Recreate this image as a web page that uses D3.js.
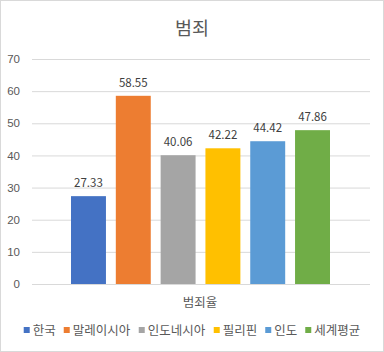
<!DOCTYPE html>
<html>
<head>
<meta charset="utf-8">
<script src="https://cdn.jsdelivr.net/npm/d3@7"></script>
<style>
  html, body { margin: 0; padding: 0; background: #fff; }
  svg { display: block; font-family: "Noto Sans CJK KR", "Noto Sans", sans-serif; }
</style>
</head>
<body>
<div id="chart"></div>
<script>
// données
const title = "범죄";
const category = "범죄율";
const countries = ["한국", "말레이시아", "인도네시아", "필리핀", "인도", "세계평균"];
const values = [27.33, 58.55, 40.06, 42.22, 44.42, 47.86];
const colors = ["#4472C4", "#ED7D31", "#A5A5A5", "#FFC000", "#5B9BD5", "#70AD47"];
const yTicks = [0, 10, 20, 30, 40, 50, 60, 70];

const W = 384, H = 352;
const margin = { top: 59, right: 14, bottom: 68, left: 32 };
const width = W - margin.left - margin.right;
const height = H - margin.top - margin.bottom;

const svg = d3.select("#chart").append("svg")
  .attr("width", W).attr("height", H);

// cadre
svg.append("rect")
  .attr("x", 0.5).attr("y", 0.5)
  .attr("width", W - 1).attr("height", H - 1)
  .attr("fill", "#fff").attr("stroke", "#d9d9d9");

// titre
svg.append("text")
  .attr("x", W / 2).attr("y", 35)
  .attr("text-anchor", "middle")
  .attr("font-size", 18.5)
  .attr("fill", "#595959")
  .text(title);

const g = svg.append("g").attr("transform", `translate(${margin.left},${margin.top})`);

// échelles
const y = d3.scaleLinear().domain([0, 70]).range([height, 0]);
const x = d3.scaleBand().domain(countries).range([39, width - 40]).paddingInner(0.22).paddingOuter(0);
const scaleC = d3.scaleOrdinal().domain(countries).range(colors);

// axe Y + grille
g.append("g")
  .call(d3.axisLeft(y).tickValues(yTicks).tickSize(0).tickPadding(12))
  .call(a => a.select(".domain").remove())
  .call(a => a.selectAll(".tick line").clone().attr("x2", width).attr("stroke", "#d9d9d9"))
  .call(a => a.selectAll("text").attr("fill", "#595959").attr("font-size", 11.5).attr("font-family", "inherit"));

// barres
g.selectAll(".bar")
  .data(countries)
  .join("rect")
  .attr("class", "bar")
  .attr("x", d => x(d))
  .attr("width", x.bandwidth())
  .attr("y", (d, i) => y(values[i]))
  .attr("height", (d, i) => height - y(values[i]))
  .attr("fill", d => scaleC(d));

// étiquettes de valeurs
g.selectAll(".val")
  .data(countries)
  .join("text")
  .attr("class", "val")
  .attr("x", d => x(d) + x.bandwidth() / 2)
  .attr("y", (d, i) => y(values[i]) - 9)
  .attr("text-anchor", "middle")
  .attr("font-size", 11.5)
  .attr("fill", "#404040")
  .text((d, i) => values[i].toFixed(2));

// libellé catégorie
g.append("text")
  .attr("x", width / 2 - 1).attr("y", height + 23)
  .attr("text-anchor", "middle")
  .attr("font-size", 12.5)
  .attr("fill", "#595959")
  .text(category);

// légende
const legend = svg.append("g").attr("transform", `translate(0, ${H - 21})`);
const items = legend.selectAll("g").data(countries).join("g");
items.append("rect").attr("width", 6).attr("height", 6).attr("y", -4).attr("fill", d => scaleC(d));
items.append("text").attr("x", 9).attr("y", 4)
  .attr("font-size", 12.5).attr("fill", "#595959").text(d => d);

let cx = 0;
const offs = [];
items.each(function () {
  offs.push(cx);
  cx += this.getBBox().width + 8;
});
const start = (W - (cx - 8)) / 2;
items.attr("transform", (d, i) => `translate(${start + offs[i]}, 0)`);
</script>
</body>
</html>
